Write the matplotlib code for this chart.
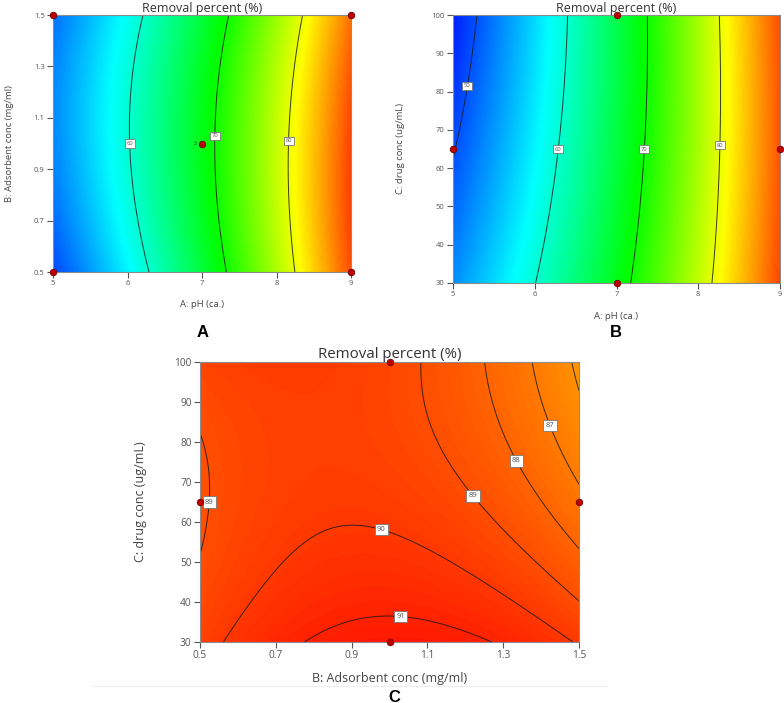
import numpy as np
import matplotlib
matplotlib.use("Agg")
import matplotlib.pyplot as plt
from matplotlib.colors import LinearSegmentedColormap, Normalize

# design levels of the three factors
ph_levels = [5, 7, 9]
ads_levels = [0.5, 1.0, 1.5]
drug_levels = [30, 65, 100]

# removal % read at the design grid (rows = first factor, cols = second factor)
removal_A = [[49.5, 52.4, 51.35],   # pH 5   vs adsorbent 0.5 / 1.0 / 1.5
             [66.7, 68.4, 66.7],    # pH 7
             [89.0, 89.45, 87.25]]  # pH 9
removal_B = [[52.8, 49.8, 47.6],    # pH 5   vs drug 30 / 65 / 100
             [68.4, 66.6, 66.0],    # pH 7
             [89.4, 88.8, 89.15]]   # pH 9
removal_C = [[89.6, 88.88, 89.45],  # ads 0.5 vs drug 30 / 65 / 100
             [91.4, 89.75, 89.35],  # ads 1.0
             [89.9, 87.25, 85.8]]   # ads 1.5

levels_A = [60, 70, 80]
levels_B = [50, 60, 70, 80]
levels_C = [86, 87, 88, 89, 90, 91]

# design points shown on each plot
pts_A = [(5, 0.5), (5, 1.5), (9, 0.5), (9, 1.5), (7, 1.0)]
pts_B = [(7, 100), (5, 65), (9, 65), (7, 30)]
pts_C = [(1.0, 100), (0.5, 65), (1.5, 65), (1.0, 30)]

ticks_A_x = [5, 6, 7, 8, 9]
ticks_A_y = [0.5, 0.7, 0.9, 1.1, 1.3, 1.5]
ticks_B_y = [30, 40, 50, 60, 70, 80, 90, 100]
ticks_C_x = [0.5, 0.7, 0.9, 1.1, 1.3, 1.5]

cmap = LinearSegmentedColormap.from_list(
    "de", ["#0000ff", "#00ffff", "#00ff00", "#ffff00", "#ff0000"])
norm = Normalize(vmin=46.2, vmax=92.6)

plt.rcParams['font.family'] = ['Open Sans', 'DejaVu Sans']


def lagrange3(levels, v):
    a, b, c = levels
    return np.array([(v - b) * (v - c) / ((a - b) * (a - c)),
                     (v - a) * (v - c) / ((b - a) * (b - c)),
                     (v - a) * (v - b) / ((c - a) * (c - b))])


def surface(xl, yl, Z, n=300):
    xs = np.linspace(xl[0], xl[-1], n)
    ys = np.linspace(yl[0], yl[-1], n)
    wx = lagrange3(xl, xs)  # 3 x n
    wy = lagrange3(yl, ys)
    S = wy.T @ np.array(Z).T @ wx  # rows = y, cols = x
    return xs, ys, S


def panel(ax, xl, yl, Z, levels, label_pos, pts, xlabel, ylabel, xticks, yticks,
          fmt_x, fmt_y, scale=1.0, ylpad=12, xlpad=9):
    xs, ys, S = surface(xl, yl, Z)
    ax.imshow(S, extent=[xs[0], xs[-1], ys[0], ys[-1]], origin='lower',
              aspect='auto', cmap=cmap, norm=norm, interpolation='bilinear')
    cs = ax.contour(xs, ys, S, levels=levels, colors='#1a1a1a', linewidths=0.7, alpha=0.85)
    txts = ax.clabel(cs, manual=label_pos, inline=False, fmt='%d',
                     fontsize=4.2 * scale, colors='#333333')
    for t in txts:
        t.set_rotation(0)
        t.set_bbox(dict(boxstyle='square,pad=0.3', fc='white', ec='#777777', lw=0.6))
        t.set_zorder(6)
    px, py = zip(*pts)
    ax.scatter(px, py, s=22, c='#c00000', edgecolors='#700000', linewidths=0.6,
               zorder=7, clip_on=False)
    ax.set_xlim(xl[0], xl[-1])
    ax.set_ylim(yl[0], yl[-1])
    ax.set_xticks(xticks)
    ax.set_yticks(yticks)
    ax.set_xticklabels([fmt_x.format(v) for v in xticks])
    ax.set_yticklabels([fmt_y.format(v) for v in yticks])
    ax.tick_params(labelsize=5.5 * scale, colors='#555555', length=4, width=0.8, pad=2)
    for s in ax.spines.values():
        s.set_color('#8c8c8c')
        s.set_linewidth(0.8)
    ax.set_xlabel(xlabel, fontsize=6.8 * scale, color='#444444', labelpad=xlpad)
    ax.set_ylabel(ylabel, fontsize=6.8 * scale, color='#444444', labelpad=ylpad)
    ax.set_title('Removal percent (%)', fontsize=9 * min(scale, 1.2), color='#333333', pad=1.5)


fig = plt.figure(figsize=(7.84, 7.03), dpi=100)
W, H = 784, 703
axA = fig.add_axes([53 / W, 1 - 272 / H, 298 / W, 257 / H])
axB = fig.add_axes([453 / W, 1 - 283 / H, 327 / W, 268 / H])
axC = fig.add_axes([200 / W, 1 - 642 / H, 379 / W, 280 / H])

panel(axA, ph_levels, ads_levels, removal_A, levels_A,
      [(6.05, 1.0), (7.18, 1.03), (8.16, 1.01)], pts_A,
      'A: pH (ca.)', 'B: Adsorbent conc (mg/ml)', ticks_A_x, ticks_A_y, '{:d}', '{:.1f}',
      ylpad=14)
axA.text(6.93, 1.0, '3', fontsize=3.5, color='#333333', ha='right', va='center')

# panel B: pH on x, drug conc on y
panel(axB, ph_levels, drug_levels, removal_B, levels_B,
      [(5.15, 81.6), (6.28, 65), (7.34, 65), (8.26, 66)], pts_B,
      'A: pH (ca.)', 'C: drug conc (ug/mL)', ticks_A_x, ticks_B_y, '{:d}', '{:d}',
      ylpad=19, xlpad=10)

# panel C: adsorbent on x, drug conc on y
panel(axC, ads_levels, drug_levels, removal_C, levels_C,
      [(0.52, 65), (1.22, 66.5), (1.33, 75), (1.42, 84), (0.98, 58.5), (1.03, 37)], pts_C,
      'B: Adsorbent conc (mg/ml)', 'C: drug conc (ug/mL)', ticks_C_x, ticks_B_y, '{:.1f}', '{:d}',
      scale=1.32, ylpad=20, xlpad=8)

fig.text(203 / W, 1 - 333 / H, 'A', fontsize=12, fontweight='bold',
         family='Liberation Sans', ha='center', va='center')
fig.text(616 / W, 1 - 333 / H, 'B', fontsize=12, fontweight='bold',
         family='Liberation Sans', ha='center', va='center')
fig.text(394 / W, 1 - 697 / H, 'C', fontsize=12, fontweight='bold',
         family='Liberation Sans', ha='center', va='center')
fig.add_artist(plt.Line2D([92 / W, 607 / W], [1 - 686 / H, 1 - 686 / H],
                          color='#eeeeee', lw=0.8))

fig.savefig('out.png', dpi=100)
